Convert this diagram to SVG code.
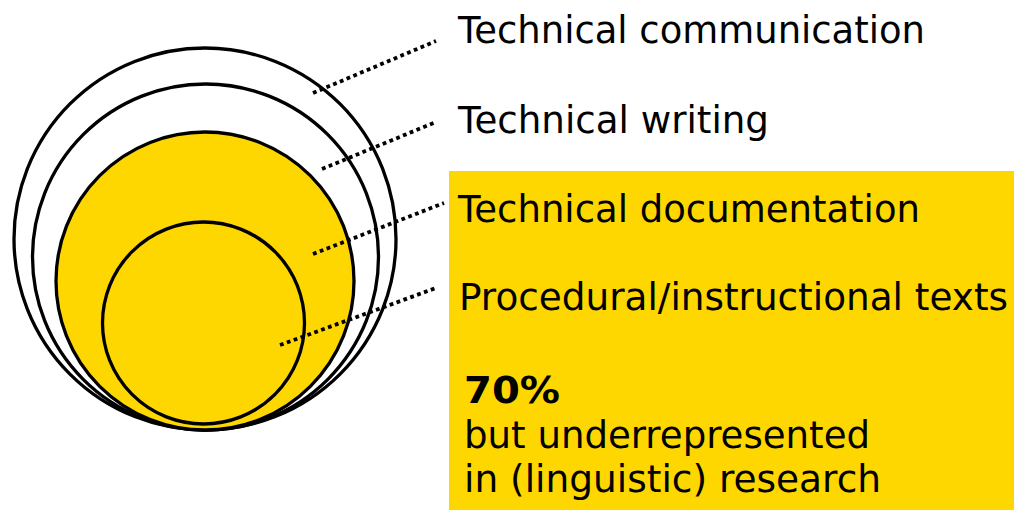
<svg xmlns="http://www.w3.org/2000/svg" width="1014" height="510" viewBox="0 0 1014 510">
  <style>
    .ring { stroke: #000; stroke-width: 3.3; }
    .lbl { font-family: "DejaVu Sans", Verdana, sans-serif; font-size: 37px; fill: #000; }
    .b { font-weight: bold; }
    .dot { stroke: #000; stroke-width: 3.8; stroke-dasharray: 3.8 3.5; fill: none; }
  </style>
  <rect width="1014" height="510" fill="#fff"/>
  <g id="panel">
    <rect x="449" y="171" width="565" height="339" fill="#FFD700"/>
  </g>
  <g id="circle-communication">
    <circle class="ring" cx="205" cy="239" r="191" fill="#fff"/>
  </g>
  <g id="circle-writing">
    <circle class="ring" cx="205.5" cy="257" r="173" fill="#fff"/>
  </g>
  <g id="circle-documentation">
    <circle class="ring" cx="205" cy="281" r="149" fill="#FFD700"/>
  </g>
  <g id="circle-procedural">
    <circle class="ring" cx="203.5" cy="323" r="101" fill="#FFD700"/>
  </g>
  <g id="connectors">
    <line class="dot" x1="313" y1="93" x2="436" y2="41"/>
    <line class="dot" x1="322" y1="169" x2="436" y2="122"/>
    <line class="dot" x1="313" y1="254" x2="444" y2="203"/>
    <line class="dot" x1="280" y1="345" x2="436" y2="288"/>
  </g>
  <g id="label-communication">
    <text class="lbl" x="458" y="43" textLength="467" lengthAdjust="spacingAndGlyphs">Technical communication</text>
  </g>
  <g id="label-writing">
    <text class="lbl" x="458" y="133" textLength="311" lengthAdjust="spacingAndGlyphs">Technical writing</text>
  </g>
  <g id="label-documentation">
    <text class="lbl" x="458" y="222" textLength="462" lengthAdjust="spacingAndGlyphs">Technical documentation</text>
  </g>
  <g id="label-procedural">
    <text class="lbl" x="459" y="310" textLength="549" lengthAdjust="spacingAndGlyphs">Procedural/instructional texts</text>
  </g>
  <g id="label-note">
    <text class="lbl b" x="464" y="403" textLength="96" lengthAdjust="spacingAndGlyphs">70%</text>
    <text class="lbl" x="464" y="448" textLength="406" lengthAdjust="spacingAndGlyphs">but underrepresented</text>
    <text class="lbl" x="464" y="492" textLength="417" lengthAdjust="spacingAndGlyphs">in (linguistic) research</text>
  </g>
</svg>
